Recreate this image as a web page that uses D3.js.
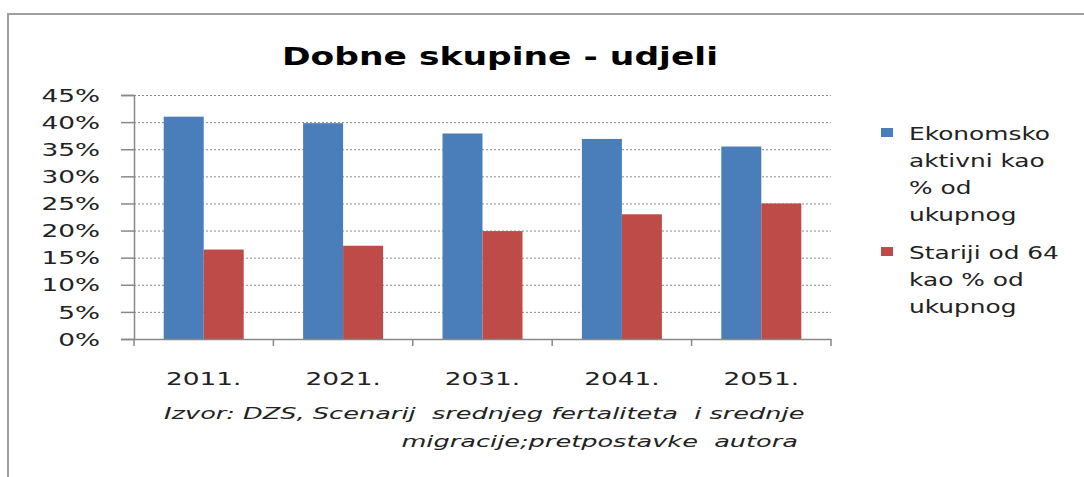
<!DOCTYPE html>
<html>
<head>
<meta charset="utf-8">
<script src="https://cdn.jsdelivr.net/npm/d3@7"></script>
<style>
  body { margin: 0; background: #fff; }
  svg text { font-family: "DejaVu Sans", sans-serif; fill: #222; }
  .grid line { stroke: #8a8a8a; stroke-dasharray: 2,2; }
  .grid path { display: none; }
  .axis path, .axis line { stroke: #888; stroke-width: 1.5; }
  .source { white-space: pre; }
</style>
</head>
<body>
<svg width="1084" height="477"></svg>
<script>
const years = ["2011.", "2021.", "2031.", "2041.", "2051."]
const aktivni = [41.0, 39.8, 37.9, 36.9, 35.5]
const stariji = [16.5, 17.2, 19.9, 23.0, 25.0]
const seriesKeys = ["aktivni", "stariji"]
const seriesLines = [
  ["Ekonomsko", "aktivni kao", "% od", "ukupnog"],
  ["Stariji od 64", "kao % od", "ukupnog"]
]
const yTicks = [0, 5, 10, 15, 20, 25, 30, 35, 40, 45]
const title = "Dobne skupine - udjeli"
const source = ["Izvor: DZS, Scenarij  srednjeg fertaliteta  i srednje", "migracije;pretpostavke  autora"]

const svg = d3.select("svg"),
      margin = {top: 95, left: 134},
      width = 697,
      height = 244,
      g = svg.append("g").attr("transform", "translate(" + margin.left + "," + margin.top + ")")

// stretch text horizontally, the original image is widened
function widen(sel, k) {
  sel.each(function() {
    const w = this.getComputedTextLength()
    d3.select(this).attr("textLength", w * k).attr("lengthAdjust", "spacingAndGlyphs")
  })
}

svg.append("rect")
  .attr("x", 8).attr("y", 14)
  .attr("width", 1200).attr("height", 600)
  .attr("fill", "none").attr("stroke", "#a0a0a0").attr("stroke-width", 2)

const data = years.map((y, i) => ({year: y, aktivni: aktivni[i], stariji: stariji[i]}))

const x0 = d3.scaleBand().domain(years).range([0, width]).padding(0),
      x1 = d3.scaleBand().domain(seriesKeys).range([0, 80]),
      y = d3.scaleLinear().domain([0, 45]).range([height, 0]),
      colors = d3.scaleOrdinal().domain(seriesKeys).range(["#4a7ebb", "#be4b48"])

g.append("g")
  .attr("class", "grid")
  .call(d3.axisLeft(y).tickValues(yTicks.slice(1)).tickSize(-width).tickFormat(""))

const groups = g.selectAll(".year")
  .data(data)
  .enter().append("g")
    .attr("class", "year")
    .attr("transform", d => "translate(" + (x0(d.year) + (x0.bandwidth() - 80) / 2) + ",0)")

groups.selectAll("rect")
  .data(d => seriesKeys.map(k => ({key: k, value: d[k]})))
  .enter().append("rect")
    .attr("x", d => x1(d.key))
    .attr("y", d => y(d.value))
    .attr("width", x1.bandwidth())
    .attr("height", d => height - y(d.value))
    .attr("fill", d => colors(d.key))

const yAxis = g.append("g")
  .attr("class", "axis")
  .call(d3.axisLeft(y).tickValues(yTicks).tickSize(13).tickPadding(21).tickFormat(d => d + "%"))
yAxis.selectAll("text").style("font-size", "17px").attr("dy", "0.36em")
widen(yAxis.selectAll("text"), 1.55)

const xAxis = g.append("g")
  .attr("class", "axis")
  .attr("transform", "translate(0," + height + ")")
  .call(d3.axisBottom(x0).tickSize(0).tickPadding(34))
xAxis.selectAll("text").style("font-size", "17px")
widen(xAxis.selectAll("text"), 1.55)

// category boundary ticks
xAxis.selectAll(".sep")
  .data(d3.range(years.length + 1))
  .enter().append("line")
    .attr("x1", i => i * x0.step()).attr("x2", i => i * x0.step())
    .attr("y1", 0).attr("y2", 7)

svg.append("text")
  .attr("x", 500).attr("y", 65)
  .attr("text-anchor", "middle")
  .style("font-size", "25px").style("font-weight", "bold").style("fill", "#000")
  .text(title)
  .call(widen, 1.38)

const legend = svg.append("g").attr("transform", "translate(881,0)")
const entryTop = [140, 259]
seriesKeys.forEach((k, i) => {
  legend.append("rect")
    .attr("x", 0).attr("y", entryTop[i] - 12)
    .attr("width", 12).attr("height", 9)
    .attr("fill", colors(k))
  legend.selectAll(".l" + i)
    .data(seriesLines[i])
    .enter().append("text")
      .attr("x", 28)
      .attr("y", (d, j) => entryTop[i] + j * 27)
      .style("font-size", "17px")
      .text(d => d)
      .call(widen, 1.46)
})

svg.append("text")
  .attr("class", "source")
  .attr("x", 164).attr("y", 419)
  .style("font-size", "16px").style("font-style", "italic")
  .text(source[0])
  .call(widen, 1.6)
svg.append("text")
  .attr("class", "source")
  .attr("x", 798).attr("y", 447)
  .attr("text-anchor", "end")
  .style("font-size", "16px").style("font-style", "italic")
  .text(source[1])
  .call(widen, 1.6)
</script>
</body>
</html>
